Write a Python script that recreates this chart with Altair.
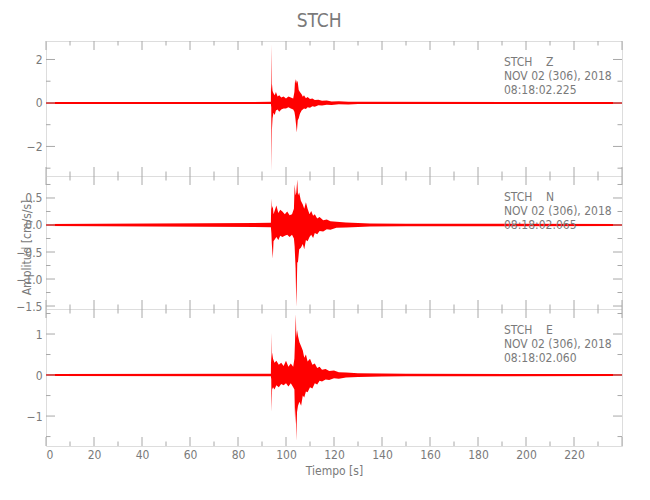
import altair as alt
import pandas as pd

# ---------------- data ----------------
TITLE = "STCH"
Y_TITLE = "Amplitud [cm/s/s]"
X_TITLE = "Tiempo [s]"

X_LABELS = [0, 20, 40, 60, 80, 100, 120, 140, 160, 180, 200, 220]
X_MAJOR = [0, 20, 40, 60, 80, 100, 120, 140, 160, 180, 200, 220, 240]
X_MINOR = [10, 30, 50, 70, 90, 110, 130, 150, 170, 190, 210, 230]

# Envelope (max / min per time) of the three components
T_Z = [0, 93.7, 93.85, 94.0, 94.15, 94.4, 94.8, 95.3, 95.8, 96.5, 97.2, 98, 99, 100, 101, 102, 103,
       103.5, 103.8, 104.2, 104.5, 104.9, 105.3, 105.8, 106.5, 107, 107.5, 108.3, 109, 110, 111,
       112, 113.5, 115, 117, 119, 122, 126, 130, 240]
HI_Z = [0.045, 0.05, 2.7, 0.6, 0.9, 0.55, 0.45, 0.35, 0.5, 0.3, 0.35, 0.25, 0.3, 0.2, 0.3, 0.25, 0.2,
        0.5, 1.1, 0.9, 1.05, 0.95, 0.6, 0.5, 0.4, 0.28, 0.35, 0.22, 0.27, 0.18, 0.2,
        0.14, 0.15, 0.1, 0.11, 0.07, 0.08, 0.06, 0.05, 0.045]
LO_Z = [-0.045, -0.05, -0.2, -3.14, -1.2, -0.7, -0.45, -0.55, -0.35, -0.3, -0.4, -0.3, -0.25, -0.25, -0.2, -0.25, -0.3,
        -0.4, -0.6, -1.0, -1.36, -0.8, -0.7, -0.5, -0.35, -0.3, -0.25, -0.28, -0.2, -0.22, -0.15,
        -0.17, -0.11, -0.12, -0.08, -0.09, -0.06, -0.07, -0.05, -0.045]

T_N = [0, 93.7, 93.9, 94.1, 94.5, 94.8, 96.0, 96.8, 97.6, 98.5, 99.5, 100.5, 101.5, 102.5, 103.3,
       103.6, 104.0, 104.3, 104.7, 105.0, 105.5, 106.2, 107, 107.6, 108.3, 109, 109.8, 110.5, 111.3,
       112, 113, 114, 115.5, 117, 118.5, 121, 125, 135, 150, 240]
HI_N = [0.02, 0.04, 0.49, 0.3, 0.35, 0.2, 0.36, 0.22, 0.28, 0.25, 0.2, 0.25, 0.18, 0.2, 0.3,
        0.75, 0.55, 0.6, 0.84, 0.55, 0.6, 0.45, 0.38, 0.3, 0.42, 0.3, 0.2, 0.26, 0.17,
        0.2, 0.12, 0.15, 0.09, 0.1, 0.07, 0.06, 0.045, 0.03, 0.024, 0.02]
LO_N = [-0.02, -0.04, -0.15, -0.35, -0.62, -0.3, -0.22, -0.28, -0.2, -0.22, -0.2, -0.18, -0.22, -0.18, -0.25,
        -0.4, -0.8, -1.52, -0.7, -0.68, -0.45, -0.42, -0.35, -0.45, -0.28, -0.3, -0.22, -0.18, -0.24,
        -0.15, -0.17, -0.11, -0.12, -0.08, -0.09, -0.05, -0.045, -0.03, -0.024, -0.02]

T_E = [0, 93.7, 93.85, 94.0, 94.2, 94.6, 95.2, 96, 97, 98, 99, 100, 101, 102, 103,
       103.5, 103.8, 104.1, 104.3, 104.6, 105.0, 105.6, 106.3, 107, 107.6, 108.3, 109, 110, 111,
       112, 113, 114, 115, 116.5, 118, 120, 122, 125, 130, 140, 150, 240]
HI_E = [0.026, 0.03, 1.03, 0.3, 0.55, 0.4, 0.3, 0.35, 0.25, 0.3, 0.22, 0.35, 0.2, 0.28, 0.2,
        0.4, 0.9, 1.48, 0.9, 1.1, 0.95, 0.8, 0.7, 0.6, 0.42, 0.5, 0.33, 0.4, 0.25,
        0.28, 0.17, 0.2, 0.13, 0.15, 0.1, 0.11, 0.07, 0.06, 0.045, 0.038, 0.03, 0.026]
LO_E = [-0.026, -0.03, -0.1, -0.9, -0.35, -0.3, -0.35, -0.25, -0.3, -0.22, -0.25, -0.2, -0.28, -0.2, -0.3,
        -0.35, -1.2, -0.8, -1.61, -0.9, -0.75, -0.65, -0.75, -0.5, -0.55, -0.4, -0.42, -0.3, -0.33,
        -0.2, -0.23, -0.14, -0.16, -0.11, -0.12, -0.08, -0.09, -0.06, -0.045, -0.038, -0.03, -0.026]

# axis settings per component
Y_DOM_Z = [-3.36, 2.85]
Y_LAB_Z = [-2, 0, 2]
Y_MIN_Z = [-3, -1, 1]
Y_DOM_N = [-1.555, 0.907]
Y_LAB_N = [-1.5, -1.0, -0.5, 0.0, 0.5]
Y_MIN_N = [-1.25, -0.75, -0.25, 0.25, 0.75]
Y_DOM_E = [-1.73, 1.61]
Y_LAB_E = [-1, 0, 1]
Y_MIN_E = [-1.5, -0.5, 0.5, 1.5]

INFO_Z = ["STCH\u00a0\u00a0\u00a0\u00a0Z", "NOV 02 (306), 2018", "08:18:02.225"]
INFO_N = ["STCH\u00a0\u00a0\u00a0\u00a0N", "NOV 02 (306), 2018", "08:18:02.065"]
INFO_E = ["STCH\u00a0\u00a0\u00a0\u00a0E", "NOV 02 (306), 2018", "08:18:02.060"]

# ---------------- styling ----------------
FONT = "DejaVu Sans Condensed, Liberation Sans Narrow, sans-serif"
TXT = "#7a7a7a"
LINE = "#a8a8a8"
RED = "#ff0000"
W = 576
MAJ = 9
MIN = 4.5
FS = 12


def panel(t, hi, lo, ydom, ylab, ymin, h, fmt, info, show_x, ytitle):
    df = pd.DataFrame({"t": t, "hi": hi, "lo": lo})
    xscale = alt.Scale(domain=[0, 240], nice=False, zero=False)
    yscale = alt.Scale(domain=ydom, nice=False, zero=False)
    if show_x:
        xaxis = alt.Axis(values=X_LABELS, tickSize=0, domain=False, grid=False,
                         labelFont=FONT, labelFontSize=FS, labelColor=TXT, labelPadding=3,
                         title=X_TITLE, titleFont=FONT, titleFontSize=FS, titleFontWeight="normal",
                         titleColor=TXT, titlePadding=5)
    else:
        xaxis = None
    yaxis = alt.Axis(values=ylab, format=fmt, tickSize=0, domain=False, grid=False,
                     labelFont=FONT, labelFontSize=FS, labelColor=TXT, labelPadding=4,
                     title=None)

    def X(field):
        return alt.X(field, type="quantitative", scale=xscale, axis=xaxis)

    def Y(field):
        return alt.Y(field, type="quantitative", scale=yscale, axis=yaxis)

    area = alt.Chart(df).mark_area(color=RED, clip=True, opacity=1).encode(
        x=X("t"), y=Y("hi"), y2="lo")

    xmaj = pd.DataFrame({"v": X_MAJOR})
    xmin = pd.DataFrame({"v": X_MINOR})
    ymj = pd.DataFrame({"v": ylab})
    ymn = pd.DataFrame({"v": ymin})

    layers = [area]
    for d, ln in ((xmaj, MAJ), (xmin, MIN)):
        layers.append(alt.Chart(d).mark_rule(color=LINE, strokeWidth=1).encode(
            x=X("v"), y=alt.value(h), y2=alt.value(h - ln)))
        layers.append(alt.Chart(d).mark_rule(color=LINE, strokeWidth=1).encode(
            x=X("v"), y=alt.value(0), y2=alt.value(ln)))
    for d, ln in ((ymj, MAJ), (ymn, MIN)):
        layers.append(alt.Chart(d).mark_rule(color=LINE, strokeWidth=1).encode(
            y=Y("v"), x=alt.value(0), x2=alt.value(ln)))
        layers.append(alt.Chart(d).mark_rule(color=LINE, strokeWidth=1).encode(
            y=Y("v"), x=alt.value(W), x2=alt.value(W - ln)))

    txt = alt.Chart(pd.DataFrame({"a": [0]})).mark_text(
        font=FONT, fontSize=FS, color=TXT, align="left", baseline="top", lineHeight=14
    ).encode(x=alt.value(458), y=alt.value(16), text=alt.value(info))
    layers.append(txt)

    if ytitle:
        layers.append(alt.Chart(pd.DataFrame({"a": [0]})).mark_text(
            font=FONT, fontSize=FS, color=TXT, align="center", baseline="middle", angle=270
        ).encode(x=alt.value(-19), y=alt.value(h / 2 + 5), text=alt.value(ytitle)))

    return alt.layer(*layers).properties(width=W, height=h)


pz = panel(T_Z, HI_Z, LO_Z, Y_DOM_Z, Y_LAB_Z, Y_MIN_Z, 135, "d", INFO_Z, False, None)
pn = panel(T_N, HI_N, LO_N, Y_DOM_N, Y_LAB_N, Y_MIN_N, 133, ".1f", INFO_N, False, Y_TITLE)
pe = panel(T_E, HI_E, LO_E, Y_DOM_E, Y_LAB_E, Y_MIN_E, 137, "d", INFO_E, True, None)

chart = alt.vconcat(pz, pn, pe, spacing=0, bounds="flush").properties(
    title=alt.Title(TITLE, font=FONT, fontSize=19, fontWeight="normal", color=TXT,
                    anchor="middle", offset=9),
    padding={"left": 7, "top": 4, "right": 5, "bottom": 5},
).configure_view(stroke=LINE, strokeWidth=1).configure(background="white")

chart.save("out.html", embed_options={"renderer": "svg", "actions": False})
